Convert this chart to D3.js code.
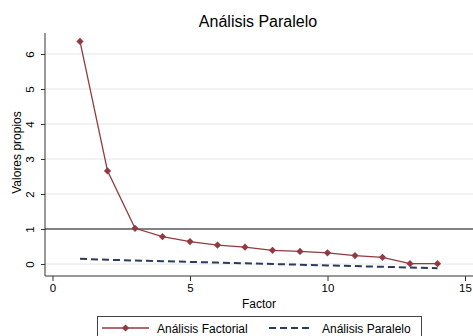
<!DOCTYPE html>
<html>
<head>
<meta charset="utf-8">
<script src="https://cdn.jsdelivr.net/npm/d3@7"></script>
<style>
  html, body { margin: 0; padding: 0; background: #fff; }
  svg { display: block; font-family: "Liberation Sans", Arial, sans-serif; }
</style>
</head>
<body>
<svg id="chart" width="473" height="336"></svg>
<script>
// Eigenvalues by factor number
const factors = [1, 2, 3, 4, 5, 6, 7, 8, 9, 10, 11, 12, 13, 14];
const factorial = [6.36, 2.66, 1.02, 0.78, 0.64, 0.54, 0.48, 0.39, 0.36, 0.32, 0.24, 0.19, 0.01, 0.01];
const paralelo = [0.15, 0.12, 0.10, 0.08, 0.06, 0.04, 0.02, 0.00, -0.02, -0.04, -0.06, -0.08, -0.10, -0.12];
const xTicks = [0, 5, 10, 15];
const yTicks = [0, 1, 2, 3, 4, 5, 6];
const kaiser = 1;

const svg = d3.select("#chart");
const plotLeft = 45, plotRight = 473, plotTop = 33, plotBottom = 276;

const x = d3.scaleLinear().domain([0, 15]).range([52.5, 465]);
const y = d3.scaleLinear().domain([0, 6]).range([264, 54]);

const axisColor = "#333";

// title
svg.append("text")
  .attr("x", 258).attr("y", 27)
  .attr("text-anchor", "middle")
  .attr("font-size", 16)
  .attr("fill", "#000")
  .text("Análisis Paralelo");

// gridlines
svg.append("g").selectAll("line").data(yTicks).join("line")
  .attr("x1", plotLeft).attr("x2", plotRight)
  .attr("y1", d => y(d)).attr("y2", d => y(d))
  .attr("stroke", "#e6e6e6").attr("stroke-width", 1);

// y axis
const yAxis = svg.append("g")
  .attr("transform", `translate(${plotLeft},0)`)
  .call(d3.axisLeft(y).tickValues(yTicks).tickSize(4).tickPadding(0).tickFormat(d3.format("d")));
yAxis.select(".domain").attr("d", `M0,${plotTop}V${plotBottom}`).attr("stroke", axisColor);
yAxis.selectAll(".tick line").attr("stroke", axisColor);
yAxis.selectAll(".tick text")
  .attr("x", 0).attr("dy", null)
  .attr("transform", "translate(-11,0) rotate(-90)")
  .attr("text-anchor", "middle")
  .attr("y", 0)
  .attr("font-size", 11.5)
  .attr("font-family", "Liberation Sans, Arial, sans-serif")
  .attr("fill", "#000");

// x axis
const xAxis = svg.append("g")
  .attr("transform", `translate(0,${plotBottom})`)
  .call(d3.axisBottom(x).tickValues(xTicks).tickSize(5).tickPadding(3).tickFormat(d3.format("d")));
xAxis.select(".domain").attr("d", `M${plotLeft},0H${plotRight}`).attr("stroke", axisColor);
xAxis.selectAll(".tick line").attr("stroke", axisColor);
xAxis.selectAll(".tick text")
  .attr("font-size", 11.5)
  .attr("font-family", "Liberation Sans, Arial, sans-serif")
  .attr("fill", "#000");

// axis titles
svg.append("text")
  .attr("transform", `translate(21,${(plotTop + plotBottom) / 2 - 2}) rotate(-90)`)
  .attr("text-anchor", "middle")
  .attr("font-size", 12)
  .attr("fill", "#000")
  .text("Valores propios");
svg.append("text")
  .attr("x", 259).attr("y", 308)
  .attr("text-anchor", "middle")
  .attr("font-size", 12)
  .attr("fill", "#000")
  .text("Factor");

// reference line at eigenvalue 1
svg.append("line")
  .attr("x1", plotLeft).attr("x2", plotRight)
  .attr("y1", y(kaiser)).attr("y2", y(kaiser))
  .attr("stroke", "#111").attr("stroke-width", 1.2);

const red = "#923a40";
const navy = "#2b3a5e";

const line = d3.line().x(d => x(d[0])).y(d => y(d[1]));

// parallel analysis series
svg.append("path")
  .datum(factors.map((f, i) => [f, paralelo[i]]))
  .attr("d", line)
  .attr("fill", "none")
  .attr("stroke", navy)
  .attr("stroke-width", 2)
  .attr("stroke-dasharray", "7,4");

// factor analysis series
const faData = factors.map((f, i) => [f, factorial[i]]);
svg.append("path")
  .datum(faData)
  .attr("d", line)
  .attr("fill", "none")
  .attr("stroke", red)
  .attr("stroke-width", 1.3);

// diamond markers: squares turned 45 degrees
const diamond = d3.symbol().type(d3.symbolSquare).size(26);
svg.append("g").selectAll("path").data(faData).join("path")
  .attr("transform", d => `translate(${x(d[0])},${y(d[1])}) rotate(45)`)
  .attr("d", diamond)
  .attr("fill", red);

// legend
const lg = svg.append("g");
lg.append("rect")
  .attr("x", 97.5).attr("y", 316.5)
  .attr("width", 324).attr("height", 30)
  .attr("fill", "#fff")
  .attr("stroke", "#444").attr("stroke-width", 1);
const ly = 328;
lg.append("line")
  .attr("x1", 102).attr("x2", 149).attr("y1", ly).attr("y2", ly)
  .attr("stroke", red).attr("stroke-width", 1.3);
lg.append("path")
  .attr("transform", `translate(125.5,${ly}) rotate(45)`)
  .attr("d", diamond)
  .attr("fill", red);
lg.append("text")
  .attr("x", 157).attr("y", 333)
  .attr("font-size", 12).attr("fill", "#000")
  .text("Análisis Factorial");
lg.append("line")
  .attr("x1", 269).attr("x2", 313).attr("y1", ly).attr("y2", ly)
  .attr("stroke", navy).attr("stroke-width", 2)
  .attr("stroke-dasharray", "7,4");
lg.append("text")
  .attr("x", 322).attr("y", 333)
  .attr("font-size", 12).attr("fill", "#000")
  .text("Análisis Paralelo");
</script>
</body>
</html>
